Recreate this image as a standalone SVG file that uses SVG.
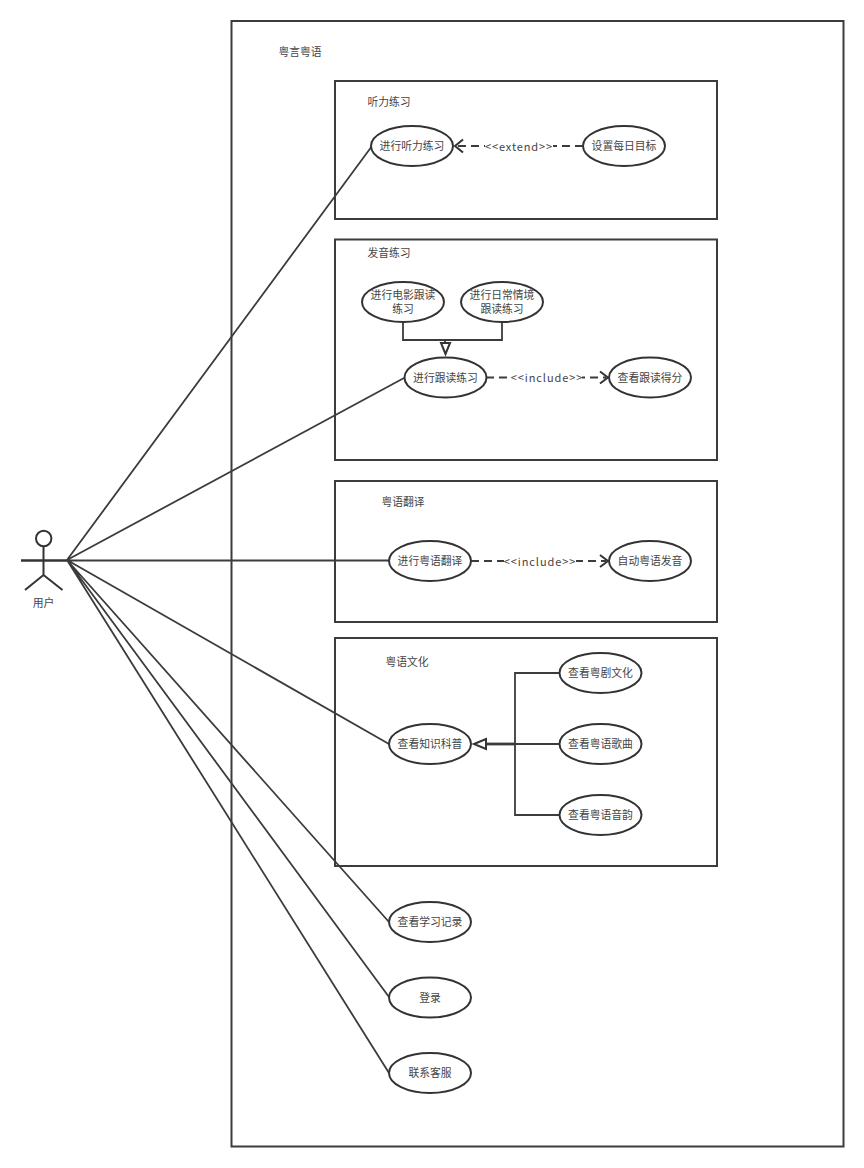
<svg xmlns="http://www.w3.org/2000/svg" width="864" height="1168" viewBox="0 0 864 1168">
<style>
text{font-family:"Noto Sans CJK SC","Liberation Sans",sans-serif;font-size:10.8px;fill:#444;text-anchor:middle}
.e{font-size:11px;letter-spacing:.9px}
.b{fill:#fff;stroke:#3c3c3c;stroke-width:2}
.u{fill:#fff;stroke:#333;stroke-width:2}
.c{fill:none;stroke:#3c3c3c;stroke-width:1.8}
.d{fill:none;stroke:#3c3c3c;stroke-width:2;stroke-dasharray:8 5}
.h{fill:none;stroke:#333;stroke-width:2}
.lb{fill:#fff;stroke:none}
</style>
<rect width="864" height="1168" fill="#fff"/>
<g id="system"><rect class="b" x="231.500" y="21" width="612" height="1125.500"/><text x="300" y="56">粤言粤语</text></g>
<g id="pkg-listen"><rect class="b" x="335" y="81" width="382" height="138"/><text x="389" y="106">听力练习</text></g>
<g id="pkg-speak"><rect class="b" x="335" y="239.500" width="382" height="220.500"/><text x="389" y="257">发音练习</text></g>
<g id="pkg-translate"><rect class="b" x="335" y="481" width="382" height="141"/><text x="403" y="506">粤语翻译</text></g>
<g id="pkg-culture"><rect class="b" x="335" y="638" width="382" height="228"/><text x="407" y="666">粤语文化</text></g>
<g id="connectors">
<path class="c" d="M67 560L372 146M67 560L404 378M21 560.500H389M67 560L389 744M67 560L389 922M67 560L389 997M67 560L389 1073"/>
<path class="d" d="M583 146H457M486 377.500H606M471 561H606"/>
<path class="h" d="M463 139.500L455 146L463 152.500M600 371.500L608 377.500L600 383.500M600 555L608 561L600 567"/>
<path class="c" d="M403 322V340H502V322M445 340V343"/>
<path class="h" d="M441 343H450L445.500 354Z"/>
<path class="c" d="M515 744V673H560M515 744V815H560M515 744H560"/>
<path fill="none" stroke="#3c3c3c" stroke-width="2.800" d="M486 744H515"/>
<path class="h" d="M474 744L486 739V749Z"/>
</g>
<g id="edge-labels">
<rect class="lb" x="485" y="138" width="68" height="16"/><text class="e" x="519" y="150.500">&lt;&lt;extend&gt;&gt;</text>
<rect class="lb" x="512" y="370" width="70" height="16"/><text class="e" x="547" y="382">&lt;&lt;include&gt;&gt;</text>
<rect class="lb" x="504" y="553" width="72" height="16"/><text class="e" x="540" y="565.500">&lt;&lt;include&gt;&gt;</text>
</g>
<g id="actor"><circle class="u" cx="43.700" cy="538.500" r="7.700"/><path class="h" d="M43.500 546V575M21 560.500H67M25 590L43.500 575L62.500 590"/><text x="43.500" y="607">用户</text></g>
<g id="uc-listen"><ellipse class="u" cx="412" cy="146" rx="41" ry="20"/><text x="412" y="150">进行听力练习</text></g>
<g id="uc-goal"><ellipse class="u" cx="624" cy="146" rx="41" ry="20"/><text x="624" y="150">设置每日目标</text></g>
<g id="uc-movie"><ellipse class="u" cx="403" cy="302" rx="41" ry="20"/><text x="403" y="298.500">进行电影跟读</text><text x="403" y="312.500">练习</text></g>
<g id="uc-daily"><ellipse class="u" cx="502" cy="302" rx="41" ry="20"/><text x="502" y="298.500">进行日常情境</text><text x="502" y="312.500">跟读练习</text></g>
<g id="uc-follow"><ellipse class="u" cx="445.500" cy="377.500" rx="41" ry="20"/><text x="445.500" y="381.500">进行跟读练习</text></g>
<g id="uc-score"><ellipse class="u" cx="650" cy="377.500" rx="41" ry="20"/><text x="650" y="381.500">查看跟读得分</text></g>
<g id="uc-translate"><ellipse class="u" cx="430" cy="561" rx="41" ry="20"/><text x="430" y="565">进行粤语翻译</text></g>
<g id="uc-auto"><ellipse class="u" cx="650" cy="561" rx="41" ry="20"/><text x="650" y="565">自动粤语发音</text></g>
<g id="uc-science"><ellipse class="u" cx="430" cy="744" rx="41" ry="20"/><text x="430" y="748">查看知识科普</text></g>
<g id="uc-opera"><ellipse class="u" cx="600.500" cy="673" rx="41" ry="20"/><text x="600.500" y="677">查看粤剧文化</text></g>
<g id="uc-song"><ellipse class="u" cx="600.500" cy="744" rx="41" ry="20"/><text x="600.500" y="748">查看粤语歌曲</text></g>
<g id="uc-rhyme"><ellipse class="u" cx="600.500" cy="815" rx="41" ry="20"/><text x="600.500" y="819">查看粤语音韵</text></g>
<g id="uc-record"><ellipse class="u" cx="430" cy="922" rx="41" ry="20"/><text x="430" y="926">查看学习记录</text></g>
<g id="uc-login"><ellipse class="u" cx="430" cy="997.500" rx="41" ry="20"/><text x="430" y="1001.500">登录</text></g>
<g id="uc-service"><ellipse class="u" cx="430" cy="1073" rx="41" ry="20"/><text x="430" y="1077">联系客服</text></g>
</svg>
